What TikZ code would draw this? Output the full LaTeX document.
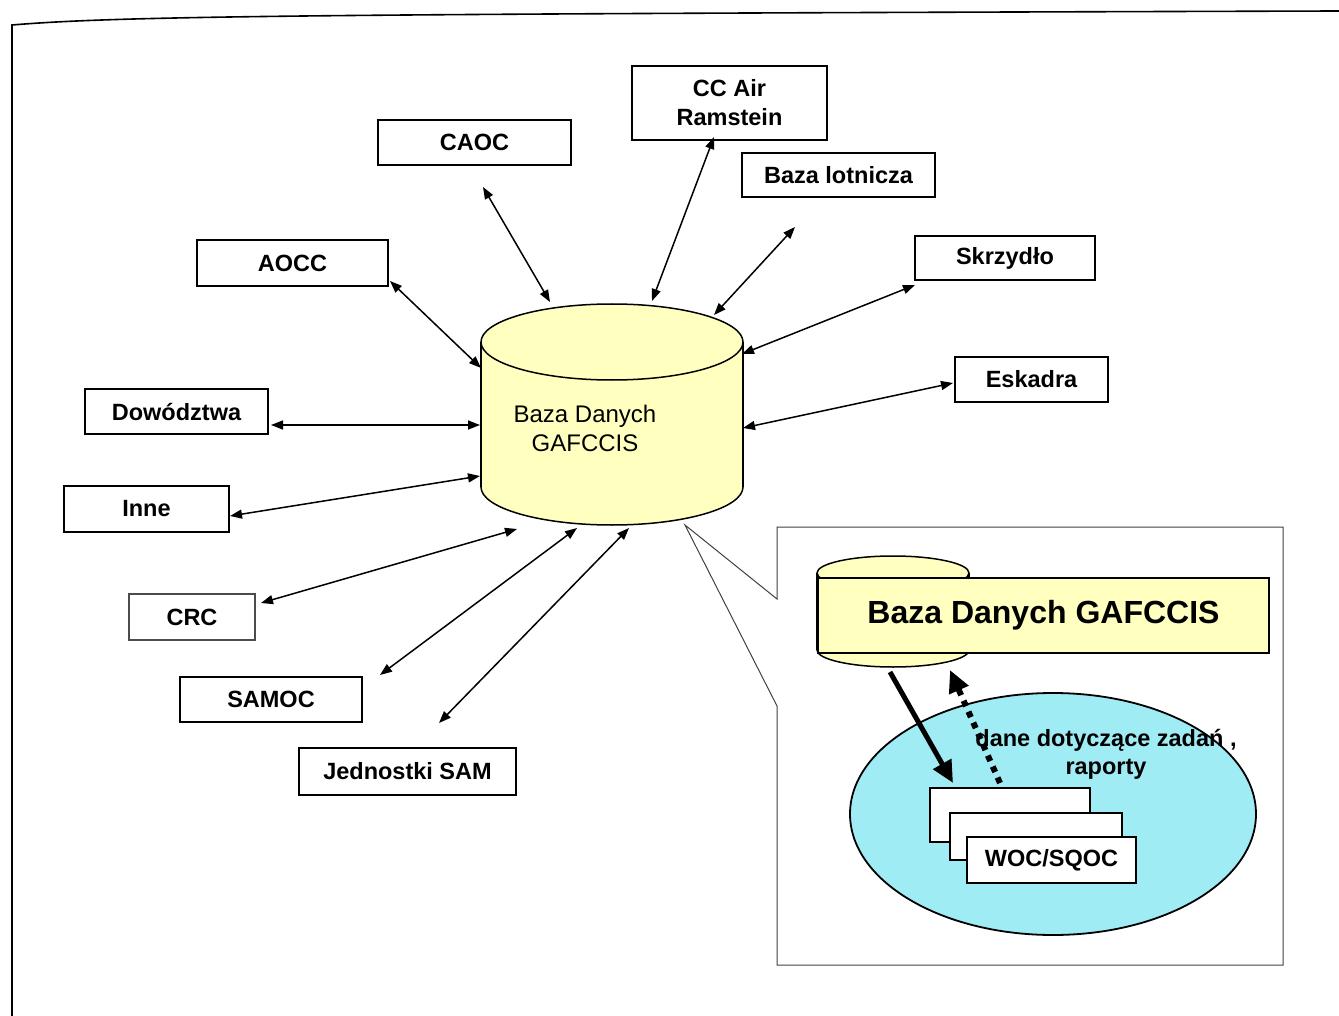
\documentclass[tikz,border=0pt]{standalone}
\usepackage{fontspec}
\setmainfont{Liberation Sans}
\usetikzlibrary{arrows.meta}
\definecolor{dbyellow}{HTML}{FFFFC0}
\definecolor{lagoon}{HTML}{A0ECF4}
\tikzset{
 box/.style={draw, line width=1.5pt, fill=white, inner sep=0pt, align=center,
   font=\bfseries\fontsize{23.5}{29}\selectfont},
 link/.style={line width=1.5pt, {Triangle[length=12pt,width=9pt]}-{Triangle[length=12pt,width=9pt]}},
 outline/.style={line width=1.5pt},
}
\begin{document}
\begin{tikzpicture}[x=1pt,y=-1pt]
\useasboundingbox (0,0) rectangle (1339,1016);
% page frame
\draw[line width=1.6pt] (12,1016) -- (12,25) .. controls (120,16) and (300,14) .. (1339,11);

% central database cylinder
\fill[dbyellow] (612,487) ellipse (131 and 38);
\fill[dbyellow] (481,342) rectangle (743,487);
\fill[dbyellow] (612,342) ellipse (131 and 38);
\draw[outline] (612,342) ellipse (131 and 38);
\draw[outline] (481,342) -- (481,487);
\draw[outline] (743,342) -- (743,487);
\begin{scope}
 \clip (470,487) rectangle (760,540);
 \draw[outline] (612,487) ellipse (131 and 38);
\end{scope}
\node[font=\fontsize{24}{29}\selectfont, align=center] (db) at (585,428) {Baza Danych\\GAFCCIS};

% surrounding boxes
\node[box, minimum width=195pt, minimum height=74pt] (ccair) at (729.5,103) {CC Air\\Ramstein};
\node[box, minimum width=193pt, minimum height=45pt] (caoc) at (474.5,142.5) {CAOC};
\node[box, minimum width=193pt, minimum height=44pt] (baza) at (838.5,175) {Baza lotnicza};
\node[box, minimum width=191pt, minimum height=46pt] (aocc) at (292.5,263) {AOCC};
\node[box, minimum width=180pt, minimum height=44pt] (skrz) at (1005,258) {Skrzydło};
\node[box, minimum width=153pt, minimum height=45pt] (eskadra) at (1031.5,379.5) {Eskadra};
\node[box, minimum width=183pt, minimum height=45pt] (dow) at (176.5,411.5) {Dowództwa};
\node[box, minimum width=165pt, minimum height=46pt] (inne) at (146.5,509) {Inne};
\node[box, draw=black!70, line width=1.2pt, minimum width=126pt, minimum height=46pt] (crc) at (192,617) {CRC};
\node[box, minimum width=182pt, minimum height=45pt] (samoc) at (271,699.5) {SAMOC};
\node[box, minimum width=217pt, minimum height=47pt] (jsam) at (407.5,771.5) {Jednostki SAM};

% connector end points
\coordinate (caoc-e) at (483,187);   \coordinate (db-caoc) at (550,302);
\coordinate (ccair-e) at (714,137);  \coordinate (db-ccair) at (652,301);
\coordinate (baza-e) at (795,227);   \coordinate (db-baza) at (714,315);
\coordinate (aocc-e) at (390,281);   \coordinate (db-aocc) at (481,368);
\coordinate (skrz-e) at (915,285);   \coordinate (db-skrz) at (742,354);
\coordinate (esk-e) at (953,383);    \coordinate (db-esk) at (743,428);
\coordinate (dow-e) at (271,425);    \coordinate (db-dow) at (480,425);
\coordinate (inne-e) at (230,516);   \coordinate (db-inne) at (480,476);
\coordinate (crc-e) at (261,603);    \coordinate (db-crc) at (517,529);
\coordinate (samoc-e) at (380,675);  \coordinate (db-samoc) at (577,528);
\coordinate (jsam-e) at (439,723);   \coordinate (db-jsam) at (629,528);

\draw[link] (caoc-e) -- (db-caoc);
\draw[link] (ccair-e) -- (db-ccair);
\draw[link] (baza-e) -- (db-baza);
\draw[link] (aocc-e) -- (db-aocc);
\draw[link] (skrz-e) -- (db-skrz);
\draw[link] (esk-e) -- (db-esk);
\draw[link] (dow-e) -- (db-dow);
\draw[link] (inne-e) -- (db-inne);
\draw[link] (crc-e) -- (db-crc);
\draw[link] (samoc-e) -- (db-samoc);
\draw[link] (jsam-e) -- (db-jsam);

% inset callout frame
\coordinate (apex) at (685,525);
\draw[line width=1pt, black!75] (777,599) -- (apex) -- (777,706) -- (777,965) -- (1283,965) -- (1283,527) -- (777,527) -- cycle;

% inset cylinder
\fill[dbyellow] (893,650) ellipse (76 and 17);
\draw[outline] (893,650) ellipse (76 and 17);
\fill[dbyellow] (817,573) rectangle (969,650);
\fill[dbyellow] (893,573) ellipse (76 and 17);
\draw[outline] (893,573) ellipse (76 and 17);
\draw[outline] (817,573) -- (817,650);
\draw[outline] (969,573) -- (969,650);
\node[draw, fill=dbyellow, line width=1.8pt, minimum width=451pt, minimum height=75pt, inner sep=0pt,
  font=\bfseries\fontsize{32}{38}\selectfont] (dbin) at (1043.5,615.5) {Baza Danych GAFCCIS};

% unit ellipse
\draw[fill=lagoon, line width=1.8pt] (1053,814) ellipse (203 and 121);
\node[box, minimum width=160pt, minimum height=54pt] (w1) at (1010,815) {};
\node[box, minimum width=172pt, minimum height=47pt] (w2) at (1036,836.5) {};
\node[box, minimum width=169pt, minimum height=46pt] (w3) at (1051.5,860) {WOC/SQOC};

% inset arrows
\coordinate (down-s) at (890,672);  \coordinate (down-e) at (953,783);
\coordinate (up-s) at (1000,783);   \coordinate (up-e) at (950,670);
\draw[line width=5pt, -{Triangle[length=22pt,width=20pt]}] (down-s) -- (down-e);
\draw[line width=6pt, dash pattern=on 6pt off 6pt, -{Triangle[length=22pt,width=20pt]}] (up-s) -- (up-e);
\node[font=\bfseries\fontsize{23.5}{28}\selectfont, align=center] (lbl) at (1106,754) {dane dotyczące zadań ,\\raporty};
\end{tikzpicture}
\end{document}
